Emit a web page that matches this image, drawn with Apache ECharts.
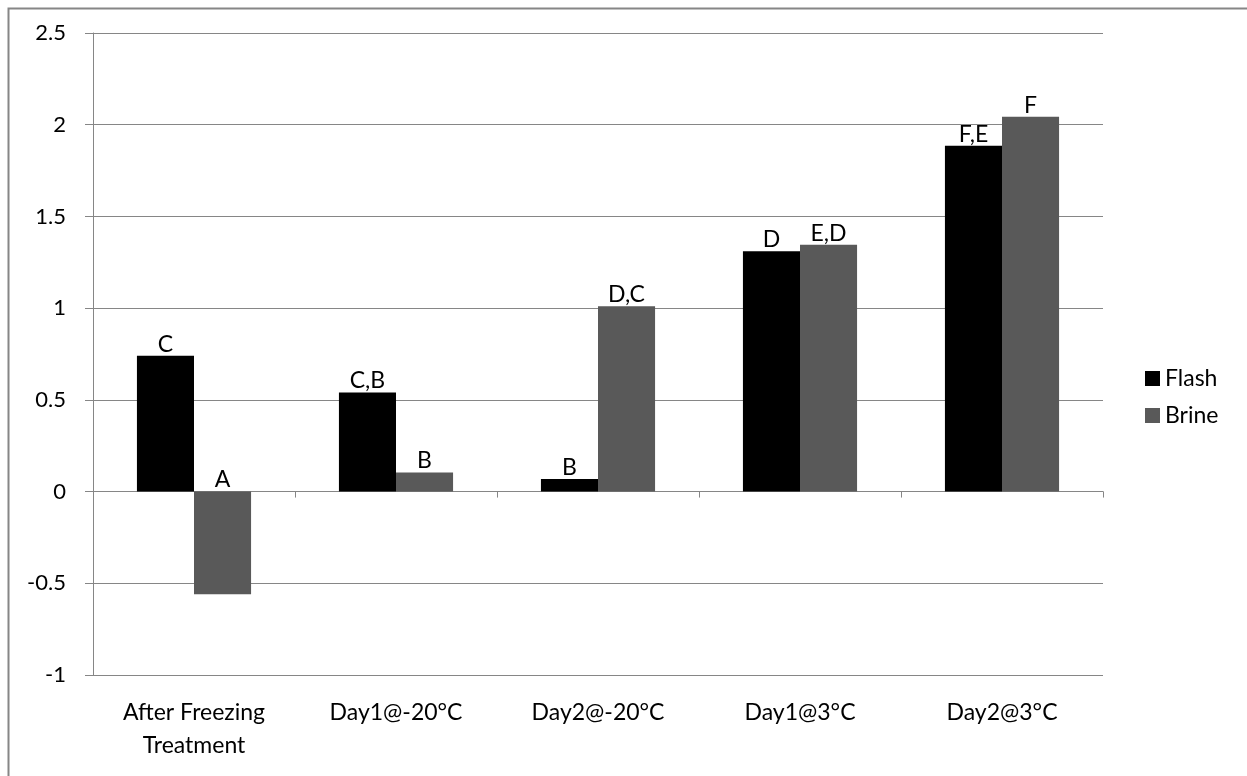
<!DOCTYPE html>
<html>
<head>
<meta charset="utf-8">
<script src="https://cdn.jsdelivr.net/npm/echarts@6/dist/echarts.min.js"></script>
<style>
html,body{margin:0;padding:0;background:#fff;}
#chart{width:1247px;height:776px;}
</style>
</head>
<body>
<div id="chart"></div>
<script>
const categories = ['After Freezing\nTreatment', 'Day1@-20°C', 'Day2@-20°C', 'Day1@3°C', 'Day2@3°C'];
const flashValues = [0.74, 0.54, 0.068, 1.31, 1.885];
const brineValues = [-0.56, 0.104, 1.01, 1.345, 2.043];
const flashLetters = ['C', 'C,B', 'B', 'D', 'F,E'];
const brineLetters = ['A', 'B', 'D,C', 'E,D', 'F'];
const yTicks = { min: -1, max: 2.5, interval: 0.5 };

const FONT = 'Lato';
const gray = '#868686';

const chart = echarts.init(document.getElementById('chart'), null, { renderer: 'canvas' });

function mk(values, letters) {
  return values.map((v, i) => ({ value: v, label: { formatter: letters[i] } }));
}

chart.setOption({
  animation: false,
  backgroundColor: '#fff',
  textStyle: { fontFamily: FONT },
  grid: { left: 93, right: 144, top: 33, bottom: 101, containLabel: false },
  legend: {
    orient: 'vertical',
    left: 1140,
    top: 362,
    itemWidth: 15,
    itemHeight: 15,
    itemGap: 14,
    icon: 'rect',
    textStyle: { fontFamily: FONT, fontSize: 23, color: '#000' },
    data: ['Flash', 'Brine']
  },
  xAxis: [
    {
      type: 'category',
      data: categories,
      axisLine: { show: true, onZero: true, lineStyle: { color: gray, width: 1 } },
      axisTick: { show: true, length: 6, inside: false, lineStyle: { color: gray } },
      axisLabel: { show: false },
      splitLine: { show: false }
    },
    {
      type: 'category',
      data: categories,
      position: 'bottom',
      axisLine: { show: false, onZero: false },
      axisTick: { show: false },
      axisLabel: { show: true, fontFamily: FONT, fontSize: 23, color: '#000', margin: 21, lineHeight: 33, interval: 0 },
      splitLine: { show: false }
    }
  ],
  yAxis: {
    type: 'value',
    min: yTicks.min,
    max: yTicks.max,
    interval: yTicks.interval,
    axisLine: { show: true, lineStyle: { color: gray, width: 1 } },
    axisTick: { show: true, length: 8, lineStyle: { color: gray } },
    axisLabel: { fontFamily: FONT, fontSize: 22, color: '#000', margin: 27 },
    splitLine: { show: true, lineStyle: { color: gray, width: 1 } }
  },
  series: [
    {
      name: 'Flash',
      type: 'bar',
      xAxisIndex: 0,
      data: mk(flashValues, flashLetters),
      itemStyle: { color: '#000000' },
      barGap: '0%',
      barCategoryGap: '43.5%',
      label: { show: true, position: 'top', distance: 0, fontFamily: FONT, fontSize: 23, color: '#000' }
    },
    {
      name: 'Brine',
      type: 'bar',
      xAxisIndex: 0,
      data: mk(brineValues, brineLetters),
      itemStyle: { color: '#595959' },
      barGap: '0%',
      barCategoryGap: '43.5%',
      label: { show: true, position: 'top', distance: 0, fontFamily: FONT, fontSize: 23, color: '#000' }
    }
  ],
  graphic: [
    {
      type: 'polyline',
      shape: { points: [[8.5, 776], [8.5, 8.5], [1247, 8.5]] },
      style: { stroke: gray, lineWidth: 2, fill: null },
      silent: true
    }
  ]
});
</script>
</body>
</html>
